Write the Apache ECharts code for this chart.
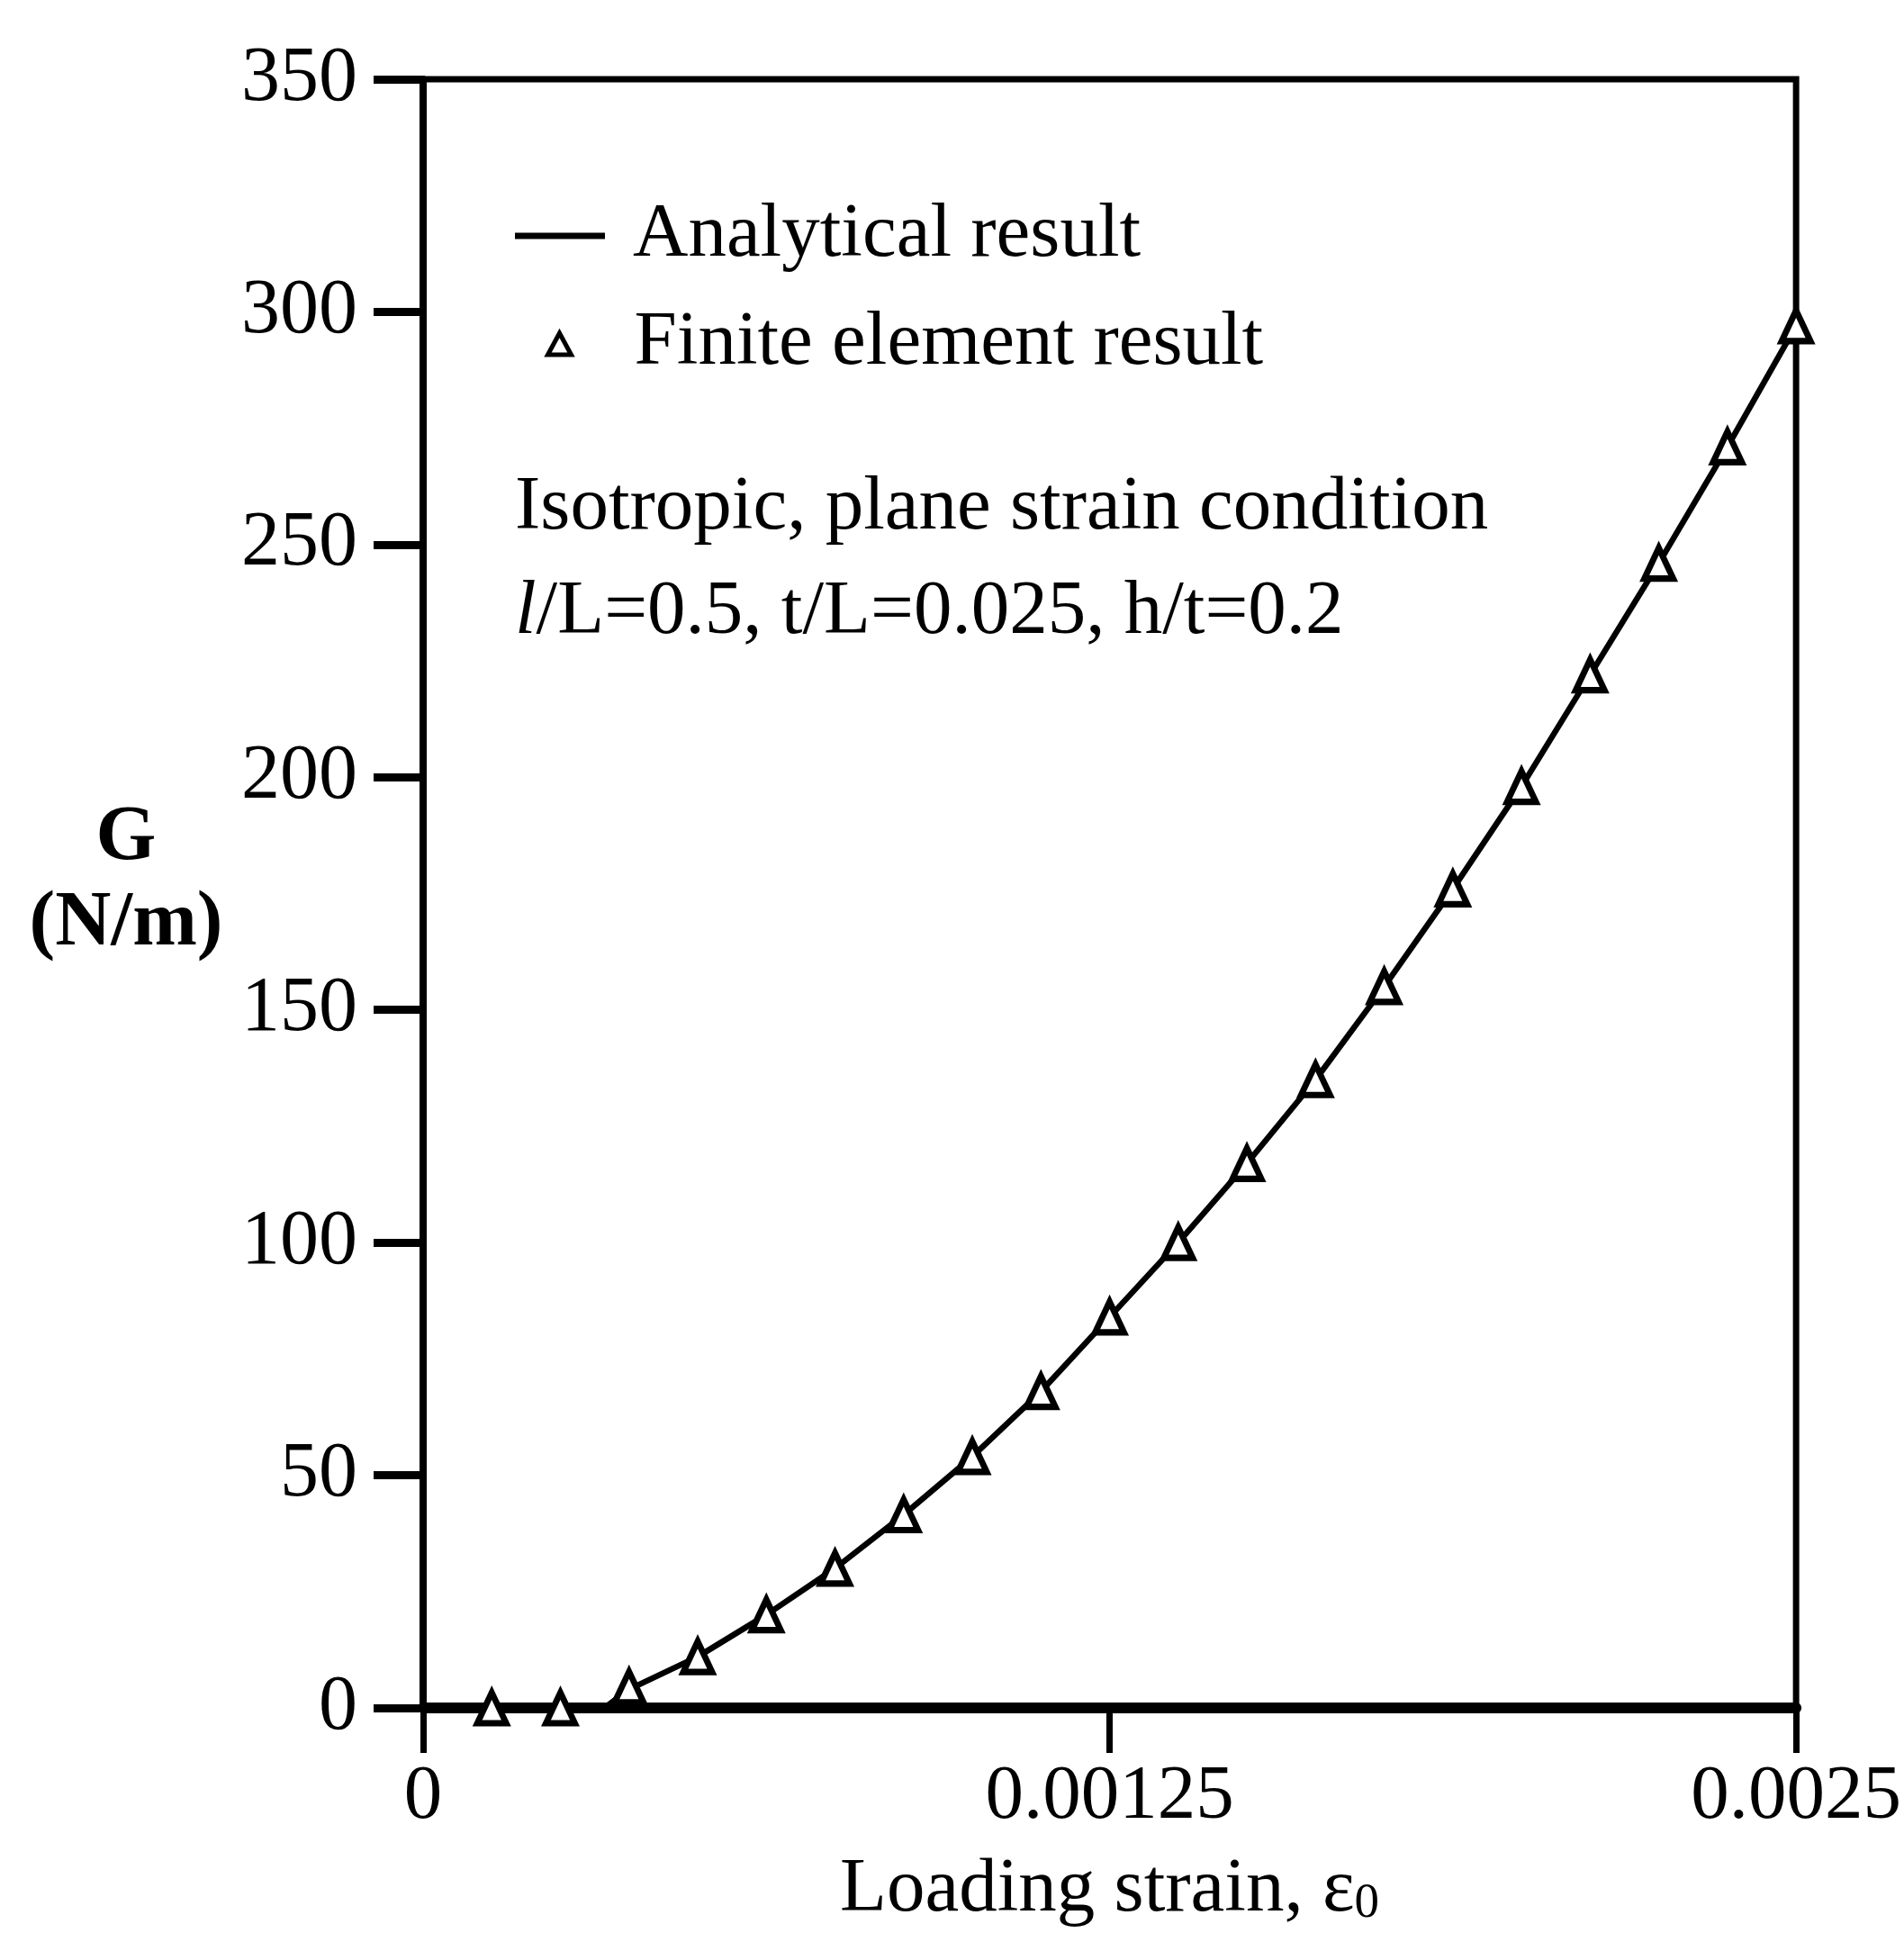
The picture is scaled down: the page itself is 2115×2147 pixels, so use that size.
<!DOCTYPE html>
<html>
<head>
<meta charset="utf-8">
<title>G vs loading strain</title>
<script src="https://cdn.jsdelivr.net/npm/echarts@6/dist/echarts.min.js"></script>
<style>
    html, body { margin: 0; padding: 0; background: #fff; }
    #gchart { width: 2115px; height: 2147px; }
</style>
</head>
<body>
<div id="gchart"></div>
<script>
// loading strain values (x) and G values (y)
var strainFE = [0.000125, 0.00025, 0.000375, 0.0005, 0.000625, 0.00075, 0.000875, 0.001, 0.001125, 0.00125,
    0.001375, 0.0015, 0.001625, 0.00175, 0.001875, 0.002, 0.002125, 0.00225, 0.002375, 0.0025];
var gFE = [0, 0, 4.5, 11, 20, 30, 41.5, 54, 68, 84, 100, 117, 135, 155, 176, 198, 222, 246, 271, 297];

var strainAnalytical = [0, 0.000125, 0.00025, 0.00033, 0.000375, 0.0005, 0.000625, 0.00075, 0.000875, 0.001,
    0.001125, 0.00125, 0.001375, 0.0015, 0.001625, 0.00175, 0.001875, 0.002, 0.002125, 0.00225, 0.002375, 0.0025];
var gAnalytical = [0, 0, 0, 0, 4, 11, 20, 30, 41.5, 54, 68, 84, 100, 117, 135, 155, 176, 198, 222, 246, 271, 297];

var xTicks = [0, 0.00125, 0.0025];
var yTicks = [0, 50, 100, 150, 200, 250, 300, 350];

var seriesNames = ['Analytical result', 'Finite element result'];
var noteLines = ['Isotropic, plane strain condition', '{it|l}/L=0.5, t/L=0.025, h/t=0.2'];

function pairs(xs, ys) {
    var out = [];
    for (var i = 0; i < xs.length; i++) {
        out.push([xs[i], ys[i]]);
    }
    return out;
}

function chart() {
    var dom = document.getElementById('gchart');
    var myChart = echarts.init(dom, null, { renderer: 'canvas' });
    var font = 'Liberation Serif';

    var legendText = {
        fontFamily: font,
        fontSize: 85,
        lineHeight: 100,
        color: '#000'
    };

    var option = {
        backgroundColor: '#fff',
        animation: false,
        textStyle: {
            fontFamily: font,
            color: '#000'
        },
        grid: {
            left: 470,
            right: 114,
            top: 88,
            bottom: 250,
            show: true,
            borderColor: '#000',
            borderWidth: 7
        },
        legend: [
            {
                // line sample
                left: 572,
                top: 212,
                padding: 0,
                itemWidth: 100,
                itemHeight: 7,
                icon: 'rect',
                textStyle: Object.assign({ padding: [0, 0, 0, 26] }, legendText),
                data: [seriesNames[0]]
            },
            {
                // triangle sample
                left: 606,
                top: 332,
                padding: 0,
                itemWidth: 26,
                itemHeight: 24,
                icon: 'triangle',
                itemStyle: { color: '#fff', borderColor: '#000', borderWidth: 5, opacity: 1 },
                textStyle: Object.assign({ padding: [0, 0, 0, 65] }, legendText),
                data: [seriesNames[1]]
            }
        ],
        graphic: [
            {
                type: 'text',
                left: 572,
                top: 522,
                style: {
                    text: noteLines[0],
                    font: '85px "Liberation Serif"',
                    fill: '#000'
                }
            },
            {
                type: 'text',
                left: 572,
                top: 638,
                style: {
                    text: noteLines[1],
                    font: '85px "Liberation Serif"',
                    fill: '#000',
                    rich: {
                        it: { fontStyle: 'italic', fontSize: 85, fontFamily: font }
                    }
                }
            }
        ],
        xAxis: {
            type: 'value',
            min: xTicks[0],
            max: xTicks[xTicks.length - 1],
            interval: xTicks[1] - xTicks[0],
            name: 'Loading strain, {e|ε}{s|0}',
            nameLocation: 'middle',
            nameGap: 160,
            nameTextStyle: {
                fontFamily: font,
                fontSize: 85,
                color: '#000',
                rich: {
                    e: { fontFamily: font, fontSize: 85 },
                    s: { fontFamily: font, fontSize: 55, verticalAlign: 'bottom', padding: [30, 0, 0, 0] }
                }
            },
            splitLine: { show: false },
            axisLine: {
                show: true,
                onZero: false,
                lineStyle: { color: '#000', width: 12 }
            },
            axisTick: {
                show: true,
                inside: false,
                length: 50,
                lineStyle: { color: '#000', width: 7 }
            },
            axisLabel: {
                margin: 57,
                fontFamily: font,
                fontSize: 85,
                color: '#000',
                showMinLabel: true,
                showMaxLabel: true
            }
        },
        yAxis: {
            type: 'value',
            min: yTicks[0],
            max: yTicks[yTicks.length - 1],
            interval: yTicks[1] - yTicks[0],
            name: 'G\n(N/m)\n{sp| }',
            nameLocation: 'middle',
            nameRotate: 0,
            nameGap: 330,
            nameTextStyle: {
                fontFamily: font,
                fontSize: 86,
                fontWeight: 'bold',
                lineHeight: 95,
                align: 'center',
                color: '#000',
                rich: {
                    sp: { fontSize: 10, lineHeight: 26 }
                }
            },
            splitLine: { show: false },
            axisLine: {
                show: true,
                lineStyle: { color: '#000', width: 8 }
            },
            axisTick: {
                show: true,
                inside: false,
                length: 55,
                lineStyle: { color: '#000', width: 9 }
            },
            axisLabel: {
                margin: 73,
                fontFamily: font,
                fontSize: 86,
                color: '#000'
            }
        },
        series: [
            {
                name: seriesNames[0],
                type: 'line',
                data: pairs(strainAnalytical, gAnalytical),
                symbol: 'none',
                smooth: false,
                color: '#000',
                lineStyle: { color: '#000', width: 6.5 },
                z: 3
            },
            {
                name: seriesNames[1],
                type: 'scatter',
                data: pairs(strainFE, gFE),
                symbol: 'triangle',
                symbolSize: [32, 34],
                itemStyle: {
                    color: '#fff',
                    borderColor: '#000',
                    borderWidth: 7,
                    opacity: 1
                },
                z: 4
            }
        ]
    };

    if (option && typeof option === 'object') {
        myChart.setOption(option, true);
    }
}

chart();
</script>
</body>
</html>
